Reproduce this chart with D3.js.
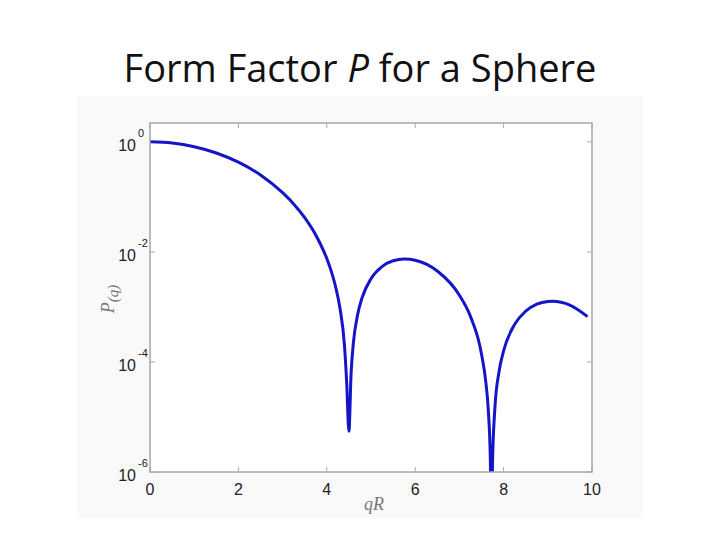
<!DOCTYPE html>
<html>
<head>
<meta charset="utf-8">
<script src="https://cdn.jsdelivr.net/npm/d3@7"></script>
<style>
  body { margin: 0; background: #fff; }
  svg { display: block; }
</style>
</head>
<body>
<div id="chart"></div>
<script>
'use strict';

// values
var qR = [0, 0.5, 1, 1.5, 2, 2.5, 3, 3.25, 3.5, 3.75, 4, 4.1, 4.2, 4.3, 4.4, 4.45, 4.5, 4.55, 4.6, 4.7, 4.8,
          5, 5.25, 5.5, 5.76, 6, 6.5, 7, 7.25, 7.5, 7.6, 7.65, 7.7, 7.72, 7.75, 7.8, 7.9, 8, 8.25, 8.5,
          8.75, 9, 9.1, 9.5, 9.9];
var Pq = [1, 0.951, 0.816, 0.628, 0.427, 0.250, 0.119, 0.0745, 0.0419, 0.0203, 0.00758, 0.00448, 0.00231,
          0.000928, 0.000199, 0.000042, 0.0000055, 0.0000634, 0.000217, 0.00074, 0.00148,
          0.00326, 0.00541, 0.00689, 0.00743, 0.00704, 0.00449, 0.00163, 0.000673, 0.00014, 0.0000417,
          0.0000148, 0.0000017, 0.00000005, 0.0000015, 0.0000133, 0.0000689, 0.000159, 0.000482, 0.000835,
          0.00112, 0.00126, 0.00127, 0.00108, 0.000666];
var xTicks = [0, 2, 4, 6, 8, 10];
var yTickExps = [0, -2, -4, -6];

var width = 720, height = 540;
var plot = { left: 150, right: 592, top: 123, bottom: 472 };

var svg = d3.select('#chart').append('svg')
    .attr('width', width).attr('height', height);

// light panel behind the figure
svg.append('rect')
    .attr('x', 77).attr('y', 96).attr('width', 566).attr('height', 422)
    .attr('fill', '#f9f9f9');

svg.append('text')
    .attr('x', 360).attr('y', 82)
    .attr('text-anchor', 'middle')
    .attr('font-family', 'Open Sans, sans-serif')
    .attr('font-size', 38)
    .attr('fill', '#111')
    .call(function (t) {
        t.append('tspan').text('Form Factor ');
        t.append('tspan').attr('font-style', 'italic').text('P');
        t.append('tspan').text(' for a Sphere');
    });

var x = d3.scaleLinear().domain([0, 10]).range([plot.left, plot.right]);
var y = d3.scaleLog().domain([1e-6, 2.2]).range([plot.bottom, plot.top]);

svg.append('rect')
    .attr('x', plot.left).attr('y', plot.top)
    .attr('width', plot.right - plot.left).attr('height', plot.bottom - plot.top)
    .attr('fill', '#fff');

svg.append('clipPath').attr('id', 'clip')
    .append('rect')
    .attr('x', plot.left).attr('y', plot.top)
    .attr('width', plot.right - plot.left).attr('height', plot.bottom - plot.top);

var axisColor = '#a8a8a8';
var labelColor = '#222';

// ticks (inward, on all four sides)
var tickG = svg.append('g').attr('stroke', axisColor).attr('stroke-width', 1);
xTicks.forEach(function (v) {
    tickG.append('line').attr('x1', x(v)).attr('x2', x(v)).attr('y1', plot.bottom).attr('y2', plot.bottom - 5);
    tickG.append('line').attr('x1', x(v)).attr('x2', x(v)).attr('y1', plot.top).attr('y2', plot.top + 5);
});
yTickExps.forEach(function (e) {
    var yy = y(Math.pow(10, e));
    tickG.append('line').attr('x1', plot.left).attr('x2', plot.left + 5).attr('y1', yy).attr('y2', yy);
    tickG.append('line').attr('x1', plot.right).attr('x2', plot.right - 5).attr('y1', yy).attr('y2', yy);
});

// x tick labels
svg.append('g').selectAll('text').data(xTicks).enter().append('text')
    .attr('x', function (d) { return x(d); })
    .attr('y', plot.bottom + 23)
    .attr('text-anchor', 'middle')
    .attr('font-family', 'Liberation Sans, Arial, sans-serif')
    .attr('font-size', 16)
    .attr('fill', labelColor)
    .text(function (d) { return d; });

// y tick labels: 10 with superscript exponent
svg.append('g').selectAll('text').data(yTickExps).enter().append('text')
    .attr('x', plot.left - 14)
    .attr('y', function (d) { return y(Math.pow(10, d)) + 9; })
    .attr('text-anchor', 'end')
    .attr('font-family', 'Liberation Sans, Arial, sans-serif')
    .attr('font-size', 16)
    .attr('fill', labelColor)
    .text('10');
svg.append('g').selectAll('text').data(yTickExps).enter().append('text')
    .attr('x', plot.left - 12)
    .attr('y', function (d) { return y(Math.pow(10, d)) - 5; })
    .attr('text-anchor', 'start')
    .attr('font-family', 'Liberation Sans, Arial, sans-serif')
    .attr('font-size', 11)
    .attr('fill', labelColor)
    .text(function (d) { return d; });

// axis titles
svg.append('text')
    .attr('x', 374).attr('y', 510)
    .attr('text-anchor', 'middle')
    .attr('font-family', 'Liberation Serif, serif')
    .attr('font-style', 'italic')
    .attr('font-size', 18)
    .attr('fill', '#777')
    .text('qR');

svg.append('text')
    .attr('transform', 'translate(114,299) rotate(-90)')
    .attr('text-anchor', 'middle')
    .attr('font-family', 'Liberation Serif, serif')
    .attr('font-style', 'italic')
    .attr('font-size', 18)
    .attr('fill', '#777')
    .call(function (t) {
        t.append('tspan').text('P');
        t.append('tspan').attr('dy', 4).attr('font-size', 15).text('(q)');
    });

// curve
var line = d3.line()
    .x(function (d) { return x(d[0]); })
    .y(function (d) { return y(d[1]); })
    .curve(d3.curveMonotoneX);

svg.append('path')
    .datum(d3.zip(qR, Pq))
    .attr('clip-path', 'url(#clip)')
    .attr('fill', 'none')
    .attr('stroke', '#1414c8')
    .attr('stroke-width', 3)
    .attr('stroke-linejoin', 'round')
    .attr('d', line);

// box
svg.append('rect')
    .attr('x', plot.left).attr('y', plot.top)
    .attr('width', plot.right - plot.left).attr('height', plot.bottom - plot.top)
    .attr('fill', 'none')
    .attr('stroke', axisColor)
    .attr('stroke-width', 1.5);
</script>
</body>
</html>
